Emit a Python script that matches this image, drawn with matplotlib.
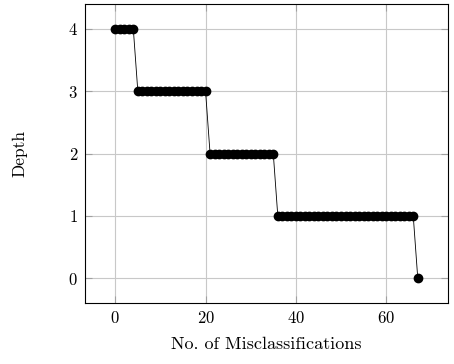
import matplotlib
matplotlib.use("Agg")
import matplotlib.pyplot as plt
import numpy as np

plt.rcParams['font.family'] = 'serif'
plt.rcParams['font.serif'] = ['cmr10']
plt.rcParams['axes.formatter.use_mathtext'] = True
plt.rcParams['mathtext.fontset'] = 'cm'

misclass = list(range(0, 68))
depth = [4]*5 + [3]*16 + [2]*15 + [1]*31 + [0]
xticks = [0, 20, 40, 60]
yticks = [0, 1, 2, 3, 4]

fig = plt.figure(figsize=(4.54, 3.64), dpi=100)
ax = fig.add_axes([85/454, 1-303/364, (448-85)/454, (303-4)/364])
ax.plot(misclass, depth, color='black', linewidth=0.6, marker='o', markersize=6.0, zorder=3)
ax.set_xlim(-6.7, 73.7)
ax.set_ylim(-0.4, 4.4)
ax.set_xticks(xticks)
ax.set_yticks(yticks)
ax.grid(True, color='#c8c8c8', linewidth=0.8, zorder=0)
ax.tick_params(direction='in', length=5, color='#a0a0a0', top=True, right=True, labelsize=12, pad=5)
for s in ax.spines.values():
    s.set_linewidth(0.8)
ax.set_xlabel('No. of Misclassifications', fontsize=13, labelpad=8)
ax.set_ylabel('Depth', fontsize=12.5, labelpad=29)
fig.savefig('out.png', dpi=100)
